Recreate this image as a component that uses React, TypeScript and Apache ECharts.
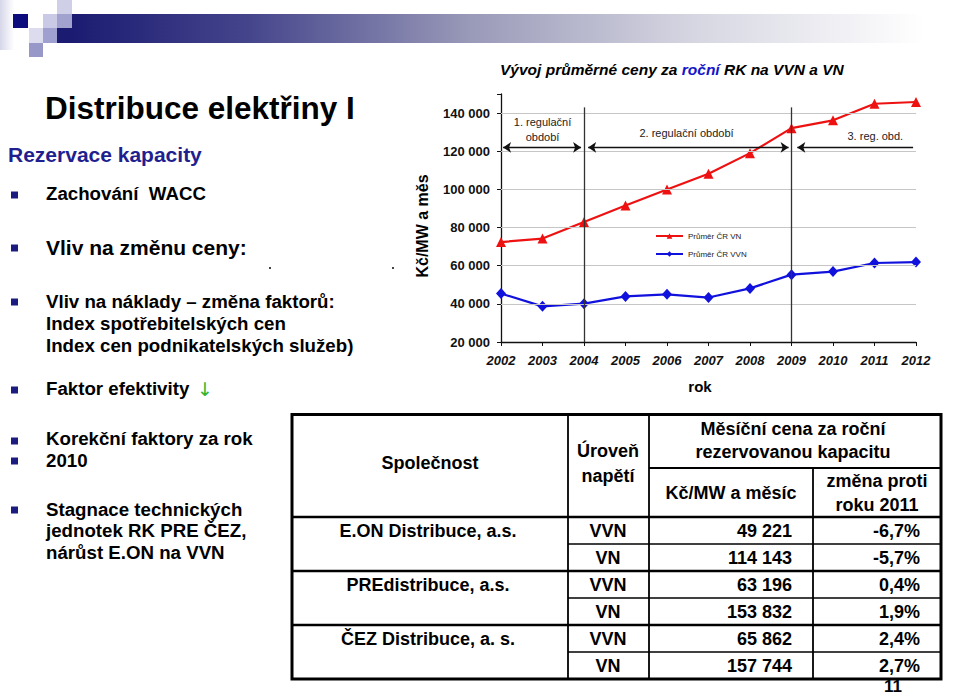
import React, { useEffect, useRef } from 'react';
import * as echarts from 'echarts';

const years = [2002, 2003, 2004, 2005, 2006, 2007, 2008, 2009, 2010, 2011, 2012];
const vnValues = [72400, 74200, 82900, 91600, 99900, 108200, 119000, 132100, 136200, 144900, 145800];
const vvnValues = [45400, 38700, 40100, 43900, 45000, 43300, 48100, 55300, 56900, 61400, 61900];
const gridValues = [40000, 60000, 80000, 100000, 120000, 140000];
const periodBounds = [2004, 2009];
const seriesNames = ['Průměr ČR VN', 'Průměr ČR VVN'];

const companies = ['E.ON Distribuce, a.s.', 'PREdistribuce, a.s.', 'ČEZ Distribuce, a. s.'];
const levels = ['VVN', 'VN', 'VVN', 'VN', 'VVN', 'VN'];
const prices = [49221, 114143, 63196, 153832, 65862, 157744];
const changes = ['-6,7%', '-5,7%', '0,4%', '1,9%', '2,4%', '2,7%'];

const FONT = '"Liberation Sans", Arial, sans-serif';
const fmtNum = (v: number) => String(v).replace(/\B(?=(\d{3})+(?!\d))/g, ' ');

function txt(text: string, x: number, y: number, size: number, opts: any = {}) {
  return {
    type: 'text',
    x,
    y,
    rotation: opts.rotation || 0,
    silent: true,
    style: {
      text,
      fill: opts.fill || '#000',
      font: `${opts.italic ? 'italic ' : ''}${opts.bold === false ? '' : 'bold '}${size}px ${opts.family || FONT}`,
      align: opts.align || 'left',
      verticalAlign: 'middle',
    },
  };
}

function line(x1: number, y1: number, x2: number, y2: number, w: number) {
  return {
    type: 'line',
    silent: true,
    shape: { x1, y1, x2, y2 },
    style: { stroke: '#000', lineWidth: w },
  };
}

function buildGraphics() {
  const g: any[] = [];
  // header decoration
  g.push({ type: 'rect', shape: { x: 0, y: 0, width: 14, height: 50 }, style: { fill: new echarts.graphic.LinearGradient(0, 0, 1, 0, [{ offset: 0, color: '#d6d6ea' }, { offset: 1, color: '#ffffff' }]) } });
  g.push({ type: 'rect', shape: { x: 72, y: 14, width: 888, height: 29 }, style: { fill: new echarts.graphic.LinearGradient(0, 0, 1, 0, [
    { offset: 0, color: '#1b1b72' }, { offset: 0.2, color: '#45458c' }, { offset: 0.45, color: '#9a9ab9' }, { offset: 0.7, color: '#d6d6e2' }, { offset: 0.96, color: '#ffffff' },
  ]) } });
  g.push({ type: 'rect', shape: { x: 57, y: 28, width: 16, height: 15 }, style: { fill: '#1b1b72' } });
  g.push({ type: 'rect', shape: { x: 13, y: 14, width: 15, height: 14 }, style: { fill: '#0c0c7c' } });
  g.push({ type: 'rect', shape: { x: 43, y: 14, width: 14, height: 14 }, style: { fill: '#cacae6' } });
  g.push({ type: 'rect', shape: { x: 57, y: 0, width: 15, height: 14 }, style: { fill: '#cfcfe8' } });
  g.push({ type: 'rect', shape: { x: 57, y: 14, width: 15, height: 14 }, style: { fill: '#a2a2cf' } });
  g.push({ type: 'rect', shape: { x: 29, y: 28, width: 14, height: 15 }, style: { fill: '#dcdcee' } });
  g.push({ type: 'rect', shape: { x: 43, y: 28, width: 14, height: 15 }, style: { fill: '#a0a0d0' } });
  g.push({ type: 'rect', shape: { x: 29, y: 43, width: 14, height: 14 }, style: { fill: '#9898c8' } });

  // left texts
  g.push(txt('Distribuce elektřiny I', 45, 108, 31.5));
  g.push(txt('Rezervace kapacity', 8, 154, 21, { fill: '#1f1f8f' }));
  const bullet = (y: number) => g.push({ type: 'rect', silent: true, shape: { x: 11, y: y - 3.5, width: 7, height: 7 }, style: { fill: '#1c1c80' } });
  const B = 18.7;
  bullet(195); g.push(txt('Zachování  WACC', 46, 193, B));
  bullet(248); g.push(txt('Vliv na změnu ceny:', 46, 247, 21));
  g.push({ type: 'rect', shape: { x: 269, y: 267, width: 2, height: 2 }, style: { fill: '#444' } });
  g.push({ type: 'rect', shape: { x: 392, y: 267, width: 2, height: 2 }, style: { fill: '#444' } });
  bullet(302); g.push(txt('Vliv na náklady – změna faktorů:', 46, 301, B));
  g.push(txt('Index spotřebitelských cen', 46, 323, B));
  g.push(txt('Index cen podnikatelských služeb)', 46, 345, B));
  bullet(390); g.push(txt('Faktor efektivity', 46, 388, B));
  g.push(txt('↓', 197, 389, 19, { fill: '#2fb52f', bold: false, family: '"DejaVu Sans", sans-serif' }));
  bullet(441); g.push(txt('Korekční faktory za rok', 46, 438, B));
  bullet(461); g.push(txt('2010', 46, 460, B));
  bullet(510); g.push(txt('Stagnace technických', 46, 509, B));
  g.push(txt('jednotek RK PRE ČEZ,', 46, 530, B));
  g.push(txt('nárůst E.ON na VVN', 46, 552, B));

  // chart title
  g.push({
    type: 'text', x: 500, y: 69, silent: true,
    style: {
      text: '{a|Vývoj průměrné ceny za }{b|roční}{a| RK na VVN a VN}',
      verticalAlign: 'middle',
      rich: {
        a: { font: `italic bold 15.5px ${FONT}`, fill: '#000' },
        b: { font: `italic bold 15.5px ${FONT}`, fill: '#1414c8' },
      },
    },
  });
  g.push(txt('Kč/MW a měs', 422, 226, 16, { align: 'center', rotation: Math.PI / 2 }));
  g.push(txt('rok', 700, 386, 15, { align: 'center' }));

  // table
  const L = 292, R = 941, T = 414.5, HM = 468, HB = 517, RH = 27;
  const cx = [L, 568, 649, 813, R];
  g.push({ type: 'rect', silent: true, shape: { x: L, y: T, width: R - L, height: HB + 6 * RH - T }, style: { fill: 'none', stroke: '#000', lineWidth: 3 } });
  const bottom = HB + 6 * RH;
  g.push(line(cx[1], T, cx[1], bottom, 1.8));
  g.push(line(cx[2], T, cx[2], bottom, 1.8));
  g.push(line(cx[3], HM, cx[3], bottom, 1.8));
  g.push(line(cx[2], HM, R, HM, 1.8));
  g.push(line(L, HB, R, HB, 2.5));
  for (let i = 1; i < 6; i++) {
    const y = HB + i * RH;
    if (i % 2 === 0) g.push(line(L, y, R, y, 2.5));
    else g.push(line(cx[1], y, R, y, 1.5));
  }
  const TS = 18;
  g.push(txt('Společnost', 430, 463, TS, { align: 'center' }));
  g.push(txt('Úroveň', 608, 451, TS, { align: 'center' }));
  g.push(txt('napětí', 608, 476, TS, { align: 'center' }));
  g.push(txt('Měsíční cena za roční', 793, 429, TS, { align: 'center' }));
  g.push(txt('rezervovanou kapacitu', 793, 452, TS, { align: 'center' }));
  g.push(txt('Kč/MW a měsíc', 731, 493, TS, { align: 'center' }));
  g.push(txt('změna proti', 877, 481, TS, { align: 'center' }));
  g.push(txt('roku 2011', 877, 505, TS, { align: 'center' }));
  for (let i = 0; i < 6; i++) {
    const y = HB + i * RH + RH / 2;
    if (i % 2 === 0) g.push(txt(companies[i / 2], 428, y, TS, { align: 'center' }));
    g.push(txt(levels[i], 608, y, TS, { align: 'center' }));
    g.push(txt(fmtNum(prices[i]), 792, y, TS, { align: 'right' }));
    g.push(txt(changes[i], 920, y, TS, { align: 'right' }));
  }
  g.push(txt('11', 893, 686, 17, { align: 'center' }));
  return g;
}

export default function App() {
  const ref = useRef<HTMLDivElement>(null);
  useEffect(() => {
    if (!ref.current) return;
    const chart = echarts.init(ref.current, undefined, { renderer: 'svg' });
    const arrowY = 122000;
    const option: any = {
      animation: false,
      backgroundColor: '#ffffff',
      textStyle: { fontFamily: FONT },
      grid: { left: 501, right: 44, top: 94, bottom: 354 },
      legend: {
        data: seriesNames,
        orient: 'vertical',
        left: 655,
        top: 232,
        itemWidth: 27,
        itemHeight: 7,
        itemGap: 10,
        padding: 0,
        textStyle: { fontSize: 8, color: '#222', fontFamily: FONT },
      },
      xAxis: {
        type: 'value', min: 2002, max: 2012, interval: 1,
        axisLine: { show: true, lineStyle: { color: '#111', width: 1.3 } },
        axisTick: { show: true, length: 4, lineStyle: { color: '#111' } },
        splitLine: { show: false },
        axisLabel: { fontWeight: 'bold', fontStyle: 'italic', fontSize: 13, color: '#111', margin: 12, formatter: (v: number) => String(v) },
      },
      yAxis: {
        type: 'value', min: 20000, max: 150000, interval: 20000,
        axisLine: { show: true, lineStyle: { color: '#111', width: 1.3 } },
        axisTick: { show: true, length: 4, lineStyle: { color: '#111' } },
        splitLine: { show: false },
        axisLabel: { fontWeight: 'bold', fontSize: 13, color: '#111', margin: 11, formatter: (v: number) => (v > 140000 ? '' : fmtNum(v)) },
      },
      series: [
        {
          name: seriesNames[0], type: 'line', z: 3,
          data: years.map((y, i) => [y, vnValues[i]]),
          symbol: 'triangle', symbolSize: 10,
          lineStyle: { color: '#ee1111', width: 2.2 },
          itemStyle: { color: '#ee1111' },
        },
        {
          name: seriesNames[1], type: 'line', z: 3,
          data: years.map((y, i) => [y, vvnValues[i]]),
          symbol: 'diamond', symbolSize: [10, 11],
          lineStyle: { color: '#1111dd', width: 2.2 },
          itemStyle: { color: '#1111dd' },
        },
        {
          name: 'ann', type: 'line', z: 1, data: [],
          markLine: {
            silent: true,
            symbol: ['none', 'none'],
            label: { show: false },
            lineStyle: { type: 'solid' },
            data: [
              ...gridValues.map((v) => ({ yAxis: v, lineStyle: { color: '#c6c6c6', width: 1, type: 'solid' } })),
              ...periodBounds.map((b) => [
                { coord: [b, 143000], symbol: 'none', lineStyle: { color: '#333', width: 1.3, type: 'solid' } },
                { coord: [b, 20000], symbol: 'none' },
              ]),
              [
                { coord: [2002.05, arrowY], symbol: 'arrow', symbolSize: 8, lineStyle: { color: '#111', width: 1.4, type: 'solid' } },
                { coord: [2003.93, arrowY], symbol: 'arrow', symbolSize: 8 },
              ],
              [
                { coord: [2004.1, arrowY], symbol: 'arrow', symbolSize: 8, lineStyle: { color: '#111', width: 1.4, type: 'solid' } },
                { coord: [2008.93, arrowY], symbol: 'arrow', symbolSize: 8 },
              ],
              [
                { coord: [2009.14, arrowY], symbol: 'arrow', symbolSize: 8, lineStyle: { color: '#111', width: 1.4, type: 'solid' } },
                { coord: [2011.93, arrowY], symbol: 'none' },
              ],
            ],
          },
          markPoint: {
            silent: true,
            symbol: 'circle',
            symbolSize: 1,
            itemStyle: { color: 'rgba(0,0,0,0)' },
            label: { show: true, position: 'inside', fontSize: 11, color: '#222', lineHeight: 15, fontFamily: FONT },
            data: [
              { coord: [2003, 131200], label: { formatter: '1. regulační\nobdobí' } },
              { coord: [2006.47, 129400], label: { formatter: '2. regulační období' } },
              { coord: [2011.02, 127800], label: { formatter: '3. reg. obd.' } },
            ],
          },
        },
      ],
      graphic: buildGraphics(),
    };
    chart.setOption(option);
    return () => chart.dispose();
  }, []);
  return <div ref={ref} style={{ position: 'absolute', left: 0, top: 0, width: 960, height: 696, background: '#fff' }} />;
}
